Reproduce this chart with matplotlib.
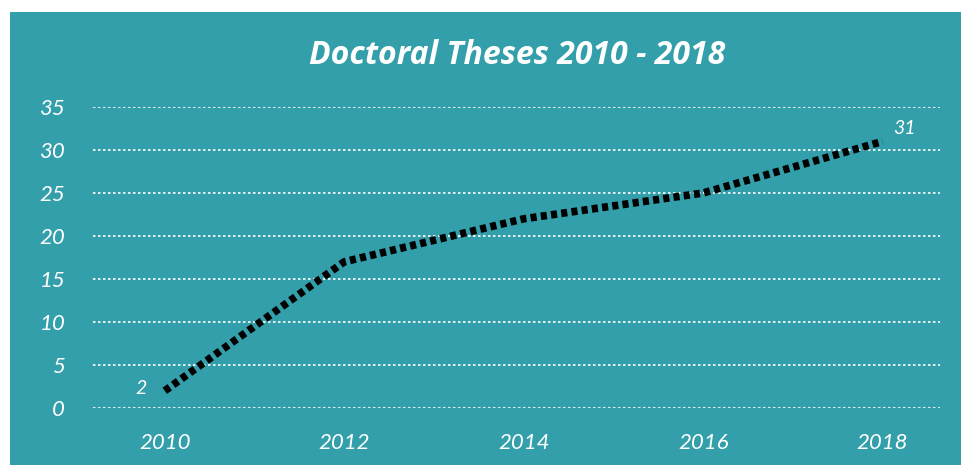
import matplotlib.pyplot as plt
from matplotlib.patches import Rectangle

# data
years = ["2010", "2012", "2014", "2016", "2018"]
theses = [2, 17, 22, 25, 31]
yticks = [0, 5, 10, 15, 20, 25, 30, 35]

TEAL = "#329faa"
FONT = "Lato"

fig = plt.figure(figsize=(9.61, 4.65), dpi=100)
fig.patch.set_facecolor("white")
fig.patches.append(Rectangle((10 / 961, 0), 1, 1 - 12 / 465, transform=fig.transFigure,
                             facecolor=TEAL, edgecolor="none", zorder=-10))

ax = fig.add_axes([93 / 961, (465 - 408) / 465, (940 - 93) / 961, (408 - 107) / 465])
ax.set_facecolor("none")

x = list(range(len(years)))
ax.plot(x, theses, color="black", linewidth=5.5, linestyle=(0, (0.8, 0.55)),
        dash_capstyle="butt", solid_joinstyle="miter", zorder=3)

ax.text(x[0] - 0.1, theses[0] + 0.3, str(theses[0]), color="white", fontsize=14,
        fontstyle="italic", family=FONT, ha="right", va="center")
ax.text(x[-1] + 0.06, theses[-1] + 1.5, str(theses[-1]), color="white", fontsize=14,
        fontstyle="italic", family=FONT, ha="left", va="center")

ax.set_xlim(-0.4, 4.32)
ax.set_ylim(0, 35)
ax.set_yticks(yticks)
ax.set_xticks(x)
ax.set_xticklabels(years)
for s in ax.spines.values():
    s.set_visible(False)
ax.tick_params(length=0, colors="white", labelsize=16)
ax.tick_params(axis="y", pad=20)
ax.tick_params(axis="x", pad=18)
for lab in ax.get_xticklabels() + ax.get_yticklabels():
    lab.set_fontstyle("italic")
    lab.set_family(FONT)
ax.grid(axis="y", color="white", linewidth=1.2, linestyle=(0, (1.5, 1.5)))
ax.set_axisbelow(True)

fig.text(517 / 961, 1 - 55 / 465, "Doctoral Theses 2010 - 2018", color="white",
         fontsize=23, fontweight="bold", fontstyle="italic", family="Open Sans",
         ha="center", va="center")

fig.savefig("out.png", dpi=100, facecolor=fig.get_facecolor())
